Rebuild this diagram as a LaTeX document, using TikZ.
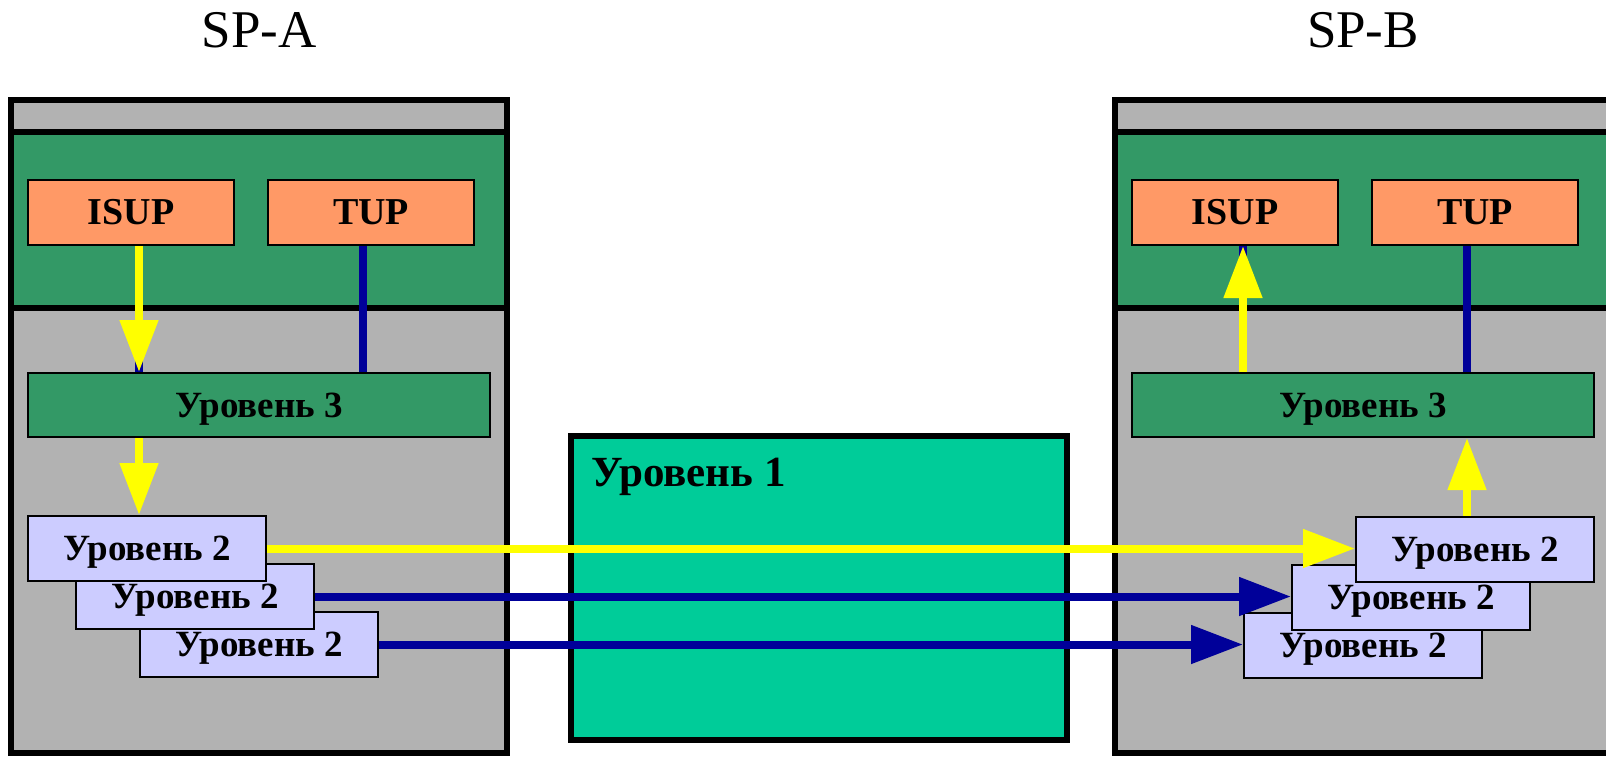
\documentclass[tikz,border=0pt]{standalone}
\usepackage{fontspec}
\setmainfont{Liberation Serif}
\usetikzlibrary{arrows.meta}

\definecolor{panelgray}{HTML}{B2B2B2}
\definecolor{panelgreen}{HTML}{339966}
\definecolor{partorange}{HTML}{FF9966}
\definecolor{linklav}{HTML}{CCCCFF}
\definecolor{phyteal}{HTML}{00CC99}
\definecolor{navyline}{HTML}{000099}
\definecolor{flowyellow}{HTML}{FFFF00}

\tikzset{
  thickframe/.style={draw=black, line width=6pt},
  upbox/.style={draw=black, line width=2pt, fill=partorange, inner sep=0pt,
    minimum width=206pt, minimum height=65pt,
    font=\fontsize{38}{38}\selectfont\bfseries},
  lvlthree/.style={draw=black, line width=2pt, fill=panelgreen, inner sep=0pt,
    minimum width=462pt, minimum height=64pt, text depth=0pt,
    font=\fontsize{37}{37}\selectfont\bfseries},
  lvltwo/.style={draw=black, line width=2pt, fill=linklav, inner sep=0pt,
    minimum width=238pt, minimum height=65pt, text depth=0pt,
    font=\fontsize{37}{37}\selectfont\bfseries},
  title/.style={anchor=base, font=\fontsize{53}{53}\selectfont},
  yarrow/.style={draw=flowyellow, line width=8pt,
    -{Triangle[length=52pt,width=37pt]}},
  narrow/.style={draw=navyline, line width=8pt,
    -{Triangle[length=52pt,width=37pt]}},
  nline/.style={draw=navyline, line width=8pt},
}

\begin{document}
\begin{tikzpicture}[x=1pt, y=-1pt]
  \useasboundingbox (0,0) rectangle (1606,756);
  \clip (0,0) rectangle (1606,756);

  % titles
  \node[title] (tA) at (259,47) {SP-A};
  \node[title] (tB) at (1363,47) {SP-B};

  % station frames: grey body with a green band for the user parts
  \foreach \xl/\xr in {11/507, 1114.5/1611} {
    \fill[panelgray] (\xl,100) rectangle (\xr,753);
    \fill[panelgreen] (\xl,132) rectangle (\xr,308);
    \draw[line width=6pt] (\xl,132) -- (\xr,132);
    \draw[line width=6pt] (\xl,308) -- (\xr,308);
    \draw[thickframe] (\xl,100) rectangle (\xr,753);
  }

  % physical level
  \draw[thickframe, fill=phyteal] (571,436) rectangle (1067,740);
  \node[anchor=base west, font=\fontsize{43}{43}\selectfont\bfseries, inner sep=0pt]
    (lvlone) at (591,486) {Уровень 1};

  % SP-A blocks
  \node[upbox] (isupA) at (131,212.5) {ISUP};
  \node[upbox] (tupA) at (371,212.5) {TUP};
  \node[lvlthree] (l3A) at (259,405) {Уровень 3};
  \node[lvltwo] (l2Ac) at (259,644.5) {Уровень 2};
  \node[lvltwo] (l2Ab) at (195,596.5) {Уровень 2};
  \node[lvltwo] (l2Aa) at (147,548.5) {Уровень 2};

  % SP-B blocks
  \node[upbox] (isupB) at (1235,212.5) {ISUP};
  \node[upbox] (tupB) at (1475,212.5) {TUP};
  \node[lvlthree] (l3B) at (1363,405) {Уровень 3};
  \node[lvltwo] (l2Bc) at (1363,645) {Уровень 2};
  \node[lvltwo] (l2Bb) at (1411,597) {Уровень 2};
  \node[lvltwo] (l2Ba) at (1475,549) {Уровень 2};

  % navy links between user parts and level 3
  \draw[nline] ([xshift=8]isupA.south) -- ([xshift=8]isupA.south |- l3A.north);
  \draw[nline] ([xshift=-8]tupA.south) -- ([xshift=-8]tupA.south |- l3A.north);
  \draw[nline] ([xshift=8]isupB.south) -- ([xshift=8]isupB.south |- l3B.north);
  \draw[nline] ([xshift=-8]tupB.south) -- ([xshift=-8]tupB.south |- l3B.north);

  % message flow (yellow)
  \draw[yarrow] ([xshift=8]isupA.south) -- ([xshift=8]isupA.south |- l3A.north);
  \draw[yarrow] ([xshift=-8]l2Aa.north |- l3A.south) -- ([xshift=-8]l2Aa.north);
  \draw[yarrow] (l2Aa.east) -- (l2Aa.east -| l2Ba.west);
  \draw[yarrow] ([xshift=-8]l2Ba.north) -- ([xshift=-8]l2Ba.north |- l3B.south);
  \draw[yarrow] ([xshift=8]isupB.south |- l3B.north) -- ([xshift=8]isupB.south);

  % other signalling links (navy)
  \draw[narrow] (l2Ab.east) -- (l2Ab.east -| l2Bb.west);
  \draw[narrow] (l2Ac.east) -- (l2Ac.east -| l2Bc.west);
\end{tikzpicture}
\end{document}
